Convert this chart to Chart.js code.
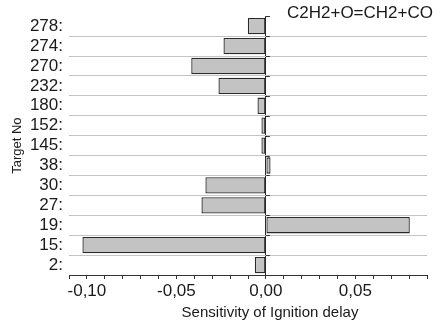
<!DOCTYPE html>
<html>
<head>
<meta charset="utf-8">
<script src="https://cdn.jsdelivr.net/npm/chart.js@4/dist/chart.umd.min.js"></script>
<style>
  html, body { margin: 0; padding: 0; background: #fff; }
  #wrap { width: 441px; height: 325px; position: relative; }
</style>
</head>
<body>
<div id="wrap"><canvas id="sens"></canvas></div>
<script>
'use strict';

// Reaction targets, top to bottom
const targets = ['278:', '274:', '270:', '232:', '180:', '152:', '145:', '38:', '30:', '27:', '19:', '15:', '2:'];
// Sensitivity of ignition delay for each target
const sensitivity = [-0.0101, -0.0237, -0.0417, -0.0265, -0.0047, -0.0025, -0.0025, 0.0026, -0.0338, -0.0360, 0.0804, -0.1025, -0.0062];
// Labelled x ticks
const xLabelTicks = [-0.10, -0.05, 0.00, 0.05];

const reaction = 'C2H2+O=CH2+CO';
const xTitle = 'Sensitivity of Ignition delay';
const yTitle = 'Target No';

const FONT = 'Liberation Sans, Arial, Helvetica, sans-serif';
const INK = '#1a1a1a';

function fmtComma(v) {
    return v.toFixed(2).replace('.', ',');
}

// Reaction name, x title and the little ticks on the zero line
const decorations = {
    id: 'decorations',
    afterDraw(chart) {
        const { ctx, chartArea, scales } = chart;
        const x0 = scales.x.getPixelForValue(0);
        const n = targets.length;
        const step = (chartArea.bottom - chartArea.top) / n;

        ctx.save();
        ctx.strokeStyle = '#333';
        ctx.lineWidth = 1;
        for (let i = 0; i < n; i++) {
            const y = Math.round(chartArea.top + i * step) + 0.5;
            ctx.beginPath();
            ctx.moveTo(x0, y);
            ctx.lineTo(x0 + 4, y);
            ctx.stroke();
        }

        ctx.fillStyle = INK;
        ctx.font = '17px ' + FONT;
        ctx.textAlign = 'left';
        ctx.textBaseline = 'alphabetic';
        ctx.fillText(reaction, 287, 18);

        ctx.font = '15px ' + FONT;
        ctx.textAlign = 'center';
        ctx.fillText(xTitle, 270, 317);
        ctx.restore();
    }
};

new Chart(document.getElementById('sens'), {
    type: 'bar',
    data: {
        labels: targets,
        datasets: [{
            data: sensitivity,
            backgroundColor: '#c3c3c3',
            borderColor: '#2a2a2a',
            borderWidth: 1.3,
            borderSkipped: false,
            barPercentage: 0.82,
            categoryPercentage: 1.0
        }]
    },
    options: {
        indexAxis: 'y',
        responsive: true,
        maintainAspectRatio: false,
        animation: false,
        layout: { padding: { top: 13, right: 14, left: 0, bottom: 0 } },
        plugins: {
            legend: { display: false },
            tooltip: { enabled: false }
        },
        scales: {
            x: {
                min: -0.11,
                max: 0.09,
                ticks: {
                    stepSize: 0.01,
                    autoSkip: false,
                    maxRotation: 0,
                    padding: 2,
                    color: INK,
                    font: { family: FONT, size: 17 },
                    callback: (v) => xLabelTicks.some(t => Math.abs(t - v) < 1e-6) ? fmtComma(v) : ''
                },
                grid: {
                    drawOnChartArea: true,
                    color: (c) => (c.tick && Math.abs(c.tick.value) < 1e-9) ? '#2a2a2a' : 'rgba(0,0,0,0)',
                    tickColor: '#333',
                    tickLength: 4
                },
                border: { display: true, color: '#333', width: 1 },
                afterFit: (scale) => { scale.height = 50; }
            },
            y: {
                ticks: {
                    autoSkip: false,
                    padding: 6,
                    color: INK,
                    font: { family: FONT, size: 17 }
                },
                grid: {
                    offset: true,
                    drawTicks: false,
                    color: (c) => c.index === 0 ? 'rgba(0,0,0,0)' : '#c4c4c4',
                    lineWidth: 1
                },
                border: { display: false },
                title: {
                    display: true,
                    text: yTitle,
                    color: INK,
                    font: { family: FONT, size: 13 },
                    padding: { top: 10, bottom: 0 }
                },
                afterFit: (scale) => { scale.width = 69; }
            }
        }
    },
    plugins: [decorations]
});
</script>
</body>
</html>
